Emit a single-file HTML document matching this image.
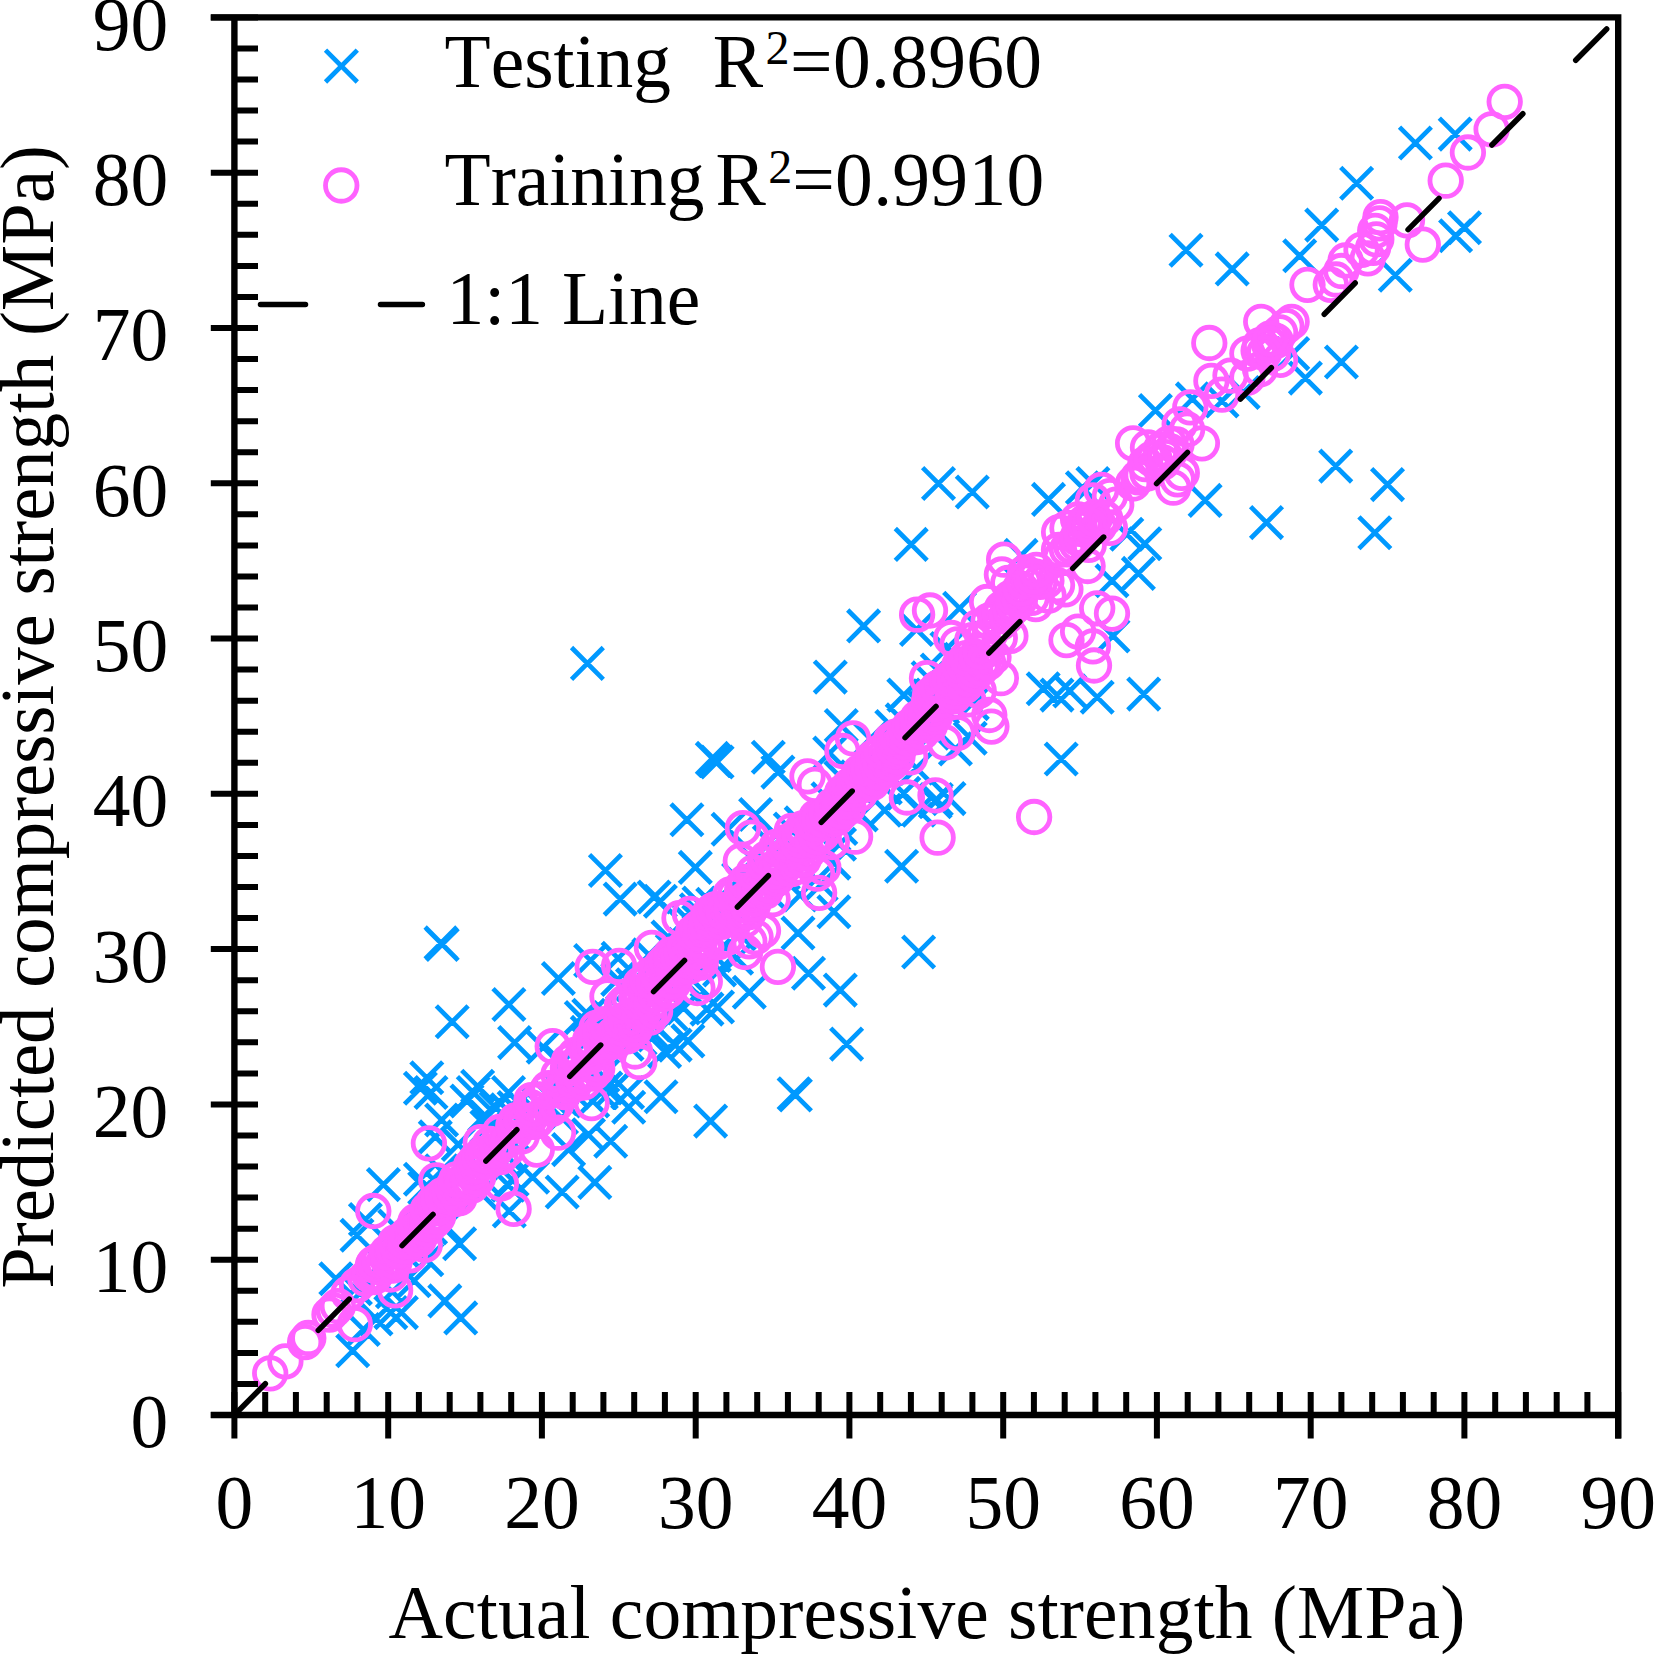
<!DOCTYPE html>
<html lang="en"><head><meta charset="utf-8"><title>Predicted vs actual compressive strength</title>
<style>html,body{margin:0;padding:0;background:#fff;}body{width:1654px;height:1654px;overflow:hidden;}svg{display:block;font-kerning:none;font-family:"Liberation Serif",serif;}</style></head><body>
<svg width="1654" height="1654" viewBox="0 0 1654 1654">
<rect width="1654" height="1654" fill="#fff"/>
<path d="M336.8 1334.8l31.8 31.8m0 -31.8l-31.8 31.8M347.4 1313.6l31.8 31.8m0 -31.8l-31.8 31.8M360.1 1303.0l31.8 31.8m0 -31.8l-31.8 31.8M374.9 1296.7l31.8 31.8m0 -31.8l-31.8 31.8M385.5 1296.7l31.8 31.8m0 -31.8l-31.8 31.8M428.9 1285.0l31.8 31.8m0 -31.8l-31.8 31.8M444.8 1302.0l31.8 31.8m0 -31.8l-31.8 31.8M443.7 1227.9l31.8 31.8m0 -31.8l-31.8 31.8M410.9 1243.8l31.8 31.8m0 -31.8l-31.8 31.8M398.2 1264.9l31.8 31.8m0 -31.8l-31.8 31.8M319.9 1262.8l31.8 31.8m0 -31.8l-31.8 31.8M341.1 1219.4l31.8 31.8m0 -31.8l-31.8 31.8M349.5 1203.6l31.8 31.8m0 -31.8l-31.8 31.8M367.5 1168.7l31.8 31.8m0 -31.8l-31.8 31.8M404.5 1163.4l31.8 31.8m0 -31.8l-31.8 31.8M410.9 1061.8l31.8 31.8m0 -31.8l-31.8 31.8M404.5 1072.4l31.8 31.8m0 -31.8l-31.8 31.8M415.1 1076.6l31.8 31.8m0 -31.8l-31.8 31.8M457.4 1076.6l31.8 31.8m0 -31.8l-31.8 31.8M451.1 1085.1l31.8 31.8m0 -31.8l-31.8 31.8M461.7 1070.3l31.8 31.8m0 -31.8l-31.8 31.8M425.7 1104.1l31.8 31.8m0 -31.8l-31.8 31.8M419.4 1121.0l31.8 31.8m0 -31.8l-31.8 31.8M546.3 1176.1l31.8 31.8m0 -31.8l-31.8 31.8M516.7 1161.3l31.8 31.8m0 -31.8l-31.8 31.8M493.4 1195.1l31.8 31.8m0 -31.8l-31.8 31.8M552.7 1133.7l31.8 31.8m0 -31.8l-31.8 31.8M698.5 744.6l31.8 31.8m0 -31.8l-31.8 31.8M696.4 742.5l31.8 31.8m0 -31.8l-31.8 31.8M701.2 746.1l31.8 31.8m0 -31.8l-31.8 31.8M752.4 741.4l31.8 31.8m0 -31.8l-31.8 31.8M762.0 756.2l31.8 31.8m0 -31.8l-31.8 31.8M671.0 803.8l31.8 31.8m0 -31.8l-31.8 31.8M589.5 854.6l31.8 31.8m0 -31.8l-31.8 31.8M604.3 883.2l31.8 31.8m0 -31.8l-31.8 31.8M638.2 881.1l31.8 31.8m0 -31.8l-31.8 31.8M644.5 885.3l31.8 31.8m0 -31.8l-31.8 31.8M679.4 851.5l31.8 31.8m0 -31.8l-31.8 31.8M885.7 850.4l31.8 31.8m0 -31.8l-31.8 31.8M818.0 895.9l31.8 31.8m0 -31.8l-31.8 31.8M782.1 917.1l31.8 31.8m0 -31.8l-31.8 31.8M792.6 957.3l31.8 31.8m0 -31.8l-31.8 31.8M824.4 974.2l31.8 31.8m0 -31.8l-31.8 31.8M733.4 976.3l31.8 31.8m0 -31.8l-31.8 31.8M902.7 936.1l31.8 31.8m0 -31.8l-31.8 31.8M830.7 1028.2l31.8 31.8m0 -31.8l-31.8 31.8M672.0 1025.0l31.8 31.8m0 -31.8l-31.8 31.8M659.3 1029.2l31.8 31.8m0 -31.8l-31.8 31.8M648.7 1035.6l31.8 31.8m0 -31.8l-31.8 31.8M691.1 993.2l31.8 31.8m0 -31.8l-31.8 31.8M701.6 991.1l31.8 31.8m0 -31.8l-31.8 31.8M574.7 944.6l31.8 31.8m0 -31.8l-31.8 31.8M602.2 942.4l31.8 31.8m0 -31.8l-31.8 31.8M825.4 709.7l31.8 31.8m0 -31.8l-31.8 31.8M813.8 737.2l31.8 31.8m0 -31.8l-31.8 31.8M868.8 794.3l31.8 31.8m0 -31.8l-31.8 31.8M902.7 794.3l31.8 31.8m0 -31.8l-31.8 31.8M887.9 777.4l31.8 31.8m0 -31.8l-31.8 31.8M712.2 813.4l31.8 31.8m0 -31.8l-31.8 31.8M739.7 798.6l31.8 31.8m0 -31.8l-31.8 31.8M720.7 942.4l31.8 31.8m0 -31.8l-31.8 31.8M805.3 868.4l31.8 31.8m0 -31.8l-31.8 31.8M818.0 847.2l31.8 31.8m0 -31.8l-31.8 31.8M784.2 879.0l31.8 31.8m0 -31.8l-31.8 31.8M922.6 467.6l31.8 31.8m0 -31.8l-31.8 31.8M956.4 476.1l31.8 31.8m0 -31.8l-31.8 31.8M1032.6 483.5l31.8 31.8m0 -31.8l-31.8 31.8M1066.5 471.8l31.8 31.8m0 -31.8l-31.8 31.8M1077.0 467.6l31.8 31.8m0 -31.8l-31.8 31.8M1139.5 394.6l31.8 31.8m0 -31.8l-31.8 31.8M1176.5 383.0l31.8 31.8m0 -31.8l-31.8 31.8M1189.2 484.5l31.8 31.8m0 -31.8l-31.8 31.8M1250.6 506.7l31.8 31.8m0 -31.8l-31.8 31.8M1128.9 527.9l31.8 31.8m0 -31.8l-31.8 31.8M1110.9 518.4l31.8 31.8m0 -31.8l-31.8 31.8M1122.5 557.5l31.8 31.8m0 -31.8l-31.8 31.8M1096.1 564.9l31.8 31.8m0 -31.8l-31.8 31.8M943.7 592.4l31.8 31.8m0 -31.8l-31.8 31.8M1097.1 620.0l31.8 31.8m0 -31.8l-31.8 31.8M1027.3 672.9l31.8 31.8m0 -31.8l-31.8 31.8M1041.1 679.2l31.8 31.8m0 -31.8l-31.8 31.8M1053.8 675.0l31.8 31.8m0 -31.8l-31.8 31.8M1081.3 681.3l31.8 31.8m0 -31.8l-31.8 31.8M1127.8 678.2l31.8 31.8m0 -31.8l-31.8 31.8M1227.3 376.6l31.8 31.8m0 -31.8l-31.8 31.8M1206.1 385.1l31.8 31.8m0 -31.8l-31.8 31.8M931.0 632.7l31.8 31.8m0 -31.8l-31.8 31.8M1005.1 539.5l31.8 31.8m0 -31.8l-31.8 31.8M956.4 687.7l31.8 31.8m0 -31.8l-31.8 31.8M926.8 691.9l31.8 31.8m0 -31.8l-31.8 31.8M1399.5 127.1l31.8 31.8m0 -31.8l-31.8 31.8M1439.3 118.2l31.8 31.8m0 -31.8l-31.8 31.8M1340.7 167.3l31.8 31.8m0 -31.8l-31.8 31.8M1305.8 209.2l31.8 31.8m0 -31.8l-31.8 31.8M1283.8 239.9l31.8 31.8m0 -31.8l-31.8 31.8M1379.4 259.4l31.8 31.8m0 -31.8l-31.8 31.8M1439.7 219.8l31.8 31.8m0 -31.8l-31.8 31.8M1448.6 211.8l31.8 31.8m0 -31.8l-31.8 31.8M1325.5 346.1l31.8 31.8m0 -31.8l-31.8 31.8M1276.8 337.7l31.8 31.8m0 -31.8l-31.8 31.8M778.2 1077.9l31.8 31.8m0 -31.8l-31.8 31.8M779.5 1079.1l31.8 31.8m0 -31.8l-31.8 31.8M694.7 1105.2l31.8 31.8m0 -31.8l-31.8 31.8M645.1 1080.8l31.8 31.8m0 -31.8l-31.8 31.8M611.7 1076.6l31.8 31.8m0 -31.8l-31.8 31.8M612.8 1091.4l31.8 31.8m0 -31.8l-31.8 31.8M595.8 1074.5l31.8 31.8m0 -31.8l-31.8 31.8M576.8 1085.1l31.8 31.8m0 -31.8l-31.8 31.8M594.8 1125.3l31.8 31.8m0 -31.8l-31.8 31.8M578.9 1166.5l31.8 31.8m0 -31.8l-31.8 31.8M572.6 1118.9l31.8 31.8m0 -31.8l-31.8 31.8M425.1 927.0l31.8 31.8m0 -31.8l-31.8 31.8M426.3 928.5l31.8 31.8m0 -31.8l-31.8 31.8M436.3 1005.9l31.8 31.8m0 -31.8l-31.8 31.8M493.0 988.6l31.8 31.8m0 -31.8l-31.8 31.8M498.7 1026.7l31.8 31.8m0 -31.8l-31.8 31.8M542.5 962.6l31.8 31.8m0 -31.8l-31.8 31.8M565.4 1001.7l31.8 31.8m0 -31.8l-31.8 31.8M527.3 1031.3l31.8 31.8m0 -31.8l-31.8 31.8M571.5 647.5l31.8 31.8m0 -31.8l-31.8 31.8M847.7 610.0l31.8 31.8m0 -31.8l-31.8 31.8M814.4 661.2l31.8 31.8m0 -31.8l-31.8 31.8M895.3 528.5l31.8 31.8m0 -31.8l-31.8 31.8M900.6 613.6l31.8 31.8m0 -31.8l-31.8 31.8M887.9 679.2l31.8 31.8m0 -31.8l-31.8 31.8M1045.3 743.1l31.8 31.8m0 -31.8l-31.8 31.8M954.3 722.4l31.8 31.8m0 -31.8l-31.8 31.8M939.5 733.0l31.8 31.8m0 -31.8l-31.8 31.8M933.1 782.7l31.8 31.8m0 -31.8l-31.8 31.8M920.4 783.7l31.8 31.8m0 -31.8l-31.8 31.8M919.4 785.9l31.8 31.8m0 -31.8l-31.8 31.8M1319.8 450.2l31.8 31.8m0 -31.8l-31.8 31.8M1371.6 468.7l31.8 31.8m0 -31.8l-31.8 31.8M1358.9 516.9l31.8 31.8m0 -31.8l-31.8 31.8M1289.5 362.2l31.8 31.8m0 -31.8l-31.8 31.8M1170.1 234.4l31.8 31.8m0 -31.8l-31.8 31.8M1216.3 253.0l31.8 31.8m0 -31.8l-31.8 31.8M339.5 1272.8l31.8 31.8m0 -31.8l-31.8 31.8M352.5 1268.9l31.8 31.8m0 -31.8l-31.8 31.8M376.5 1275.9l31.8 31.8m0 -31.8l-31.8 31.8M365.4 1247.8l31.8 31.8m0 -31.8l-31.8 31.8M375.7 1241.0l31.8 31.8m0 -31.8l-31.8 31.8M387.5 1235.9l31.8 31.8m0 -31.8l-31.8 31.8M378.8 1210.2l31.8 31.8m0 -31.8l-31.8 31.8M401.2 1215.6l31.8 31.8m0 -31.8l-31.8 31.8M414.7 1212.1l31.8 31.8m0 -31.8l-31.8 31.8M430.1 1210.5l31.8 31.8m0 -31.8l-31.8 31.8M408.8 1172.2l31.8 31.8m0 -31.8l-31.8 31.8M426.2 1172.5l31.8 31.8m0 -31.8l-31.8 31.8M425.5 1154.9l31.8 31.8m0 -31.8l-31.8 31.8M464.6 1177.0l31.8 31.8m0 -31.8l-31.8 31.8M468.1 1163.5l31.8 31.8m0 -31.8l-31.8 31.8M442.4 1128.5l31.8 31.8m0 -31.8l-31.8 31.8M492.4 1169.3l31.8 31.8m0 -31.8l-31.8 31.8M496.2 1163.8l31.8 31.8m0 -31.8l-31.8 31.8M485.8 1144.1l31.8 31.8m0 -31.8l-31.8 31.8M488.5 1137.6l31.8 31.8m0 -31.8l-31.8 31.8M471.0 1110.8l31.8 31.8m0 -31.8l-31.8 31.8M468.8 1099.3l31.8 31.8m0 -31.8l-31.8 31.8M498.2 1119.4l31.8 31.8m0 -31.8l-31.8 31.8M480.1 1092.1l31.8 31.8m0 -31.8l-31.8 31.8M491.1 1093.8l31.8 31.8m0 -31.8l-31.8 31.8M498.2 1091.6l31.8 31.8m0 -31.8l-31.8 31.8M492.6 1076.7l31.8 31.8m0 -31.8l-31.8 31.8M518.1 1093.0l31.8 31.8m0 -31.8l-31.8 31.8M521.6 1087.2l31.8 31.8m0 -31.8l-31.8 31.8M545.6 1101.9l31.8 31.8m0 -31.8l-31.8 31.8M534.6 1081.7l31.8 31.8m0 -31.8l-31.8 31.8M545.1 1082.9l31.8 31.8m0 -31.8l-31.8 31.8M542.9 1071.4l31.8 31.8m0 -31.8l-31.8 31.8M555.4 1074.6l31.8 31.8m0 -31.8l-31.8 31.8M550.1 1060.1l31.8 31.8m0 -31.8l-31.8 31.8M546.1 1046.8l31.8 31.8m0 -31.8l-31.8 31.8M585.4 1076.8l31.8 31.8m0 -31.8l-31.8 31.8M589.9 1072.1l31.8 31.8m0 -31.8l-31.8 31.8M587.0 1059.9l31.8 31.8m0 -31.8l-31.8 31.8M585.2 1048.9l31.8 31.8m0 -31.8l-31.8 31.8M570.9 1025.3l31.8 31.8m0 -31.8l-31.8 31.8M571.4 1016.5l31.8 31.8m0 -31.8l-31.8 31.8M578.9 1014.7l31.8 31.8m0 -31.8l-31.8 31.8M572.9 999.4l31.8 31.8m0 -31.8l-31.8 31.8M611.1 1028.4l31.8 31.8m0 -31.8l-31.8 31.8M598.1 1006.1l31.8 31.8m0 -31.8l-31.8 31.8M624.2 1023.0l31.8 31.8m0 -31.8l-31.8 31.8M606.6 996.1l31.8 31.8m0 -31.8l-31.8 31.8M638.8 1019.0l31.8 31.8m0 -31.8l-31.8 31.8M638.1 1009.0l31.8 31.8m0 -31.8l-31.8 31.8M601.8 963.5l31.8 31.8m0 -31.8l-31.8 31.8M616.6 968.9l31.8 31.8m0 -31.8l-31.8 31.8M655.0 998.1l31.8 31.8m0 -31.8l-31.8 31.8M638.3 972.2l31.8 31.8m0 -31.8l-31.8 31.8M667.6 992.1l31.8 31.8m0 -31.8l-31.8 31.8M644.1 959.3l31.8 31.8m0 -31.8l-31.8 31.8M633.0 939.0l31.8 31.8m0 -31.8l-31.8 31.8M664.5 961.2l31.8 31.8m0 -31.8l-31.8 31.8M676.3 963.8l31.8 31.8m0 -31.8l-31.8 31.8M656.4 934.5l31.8 31.8m0 -31.8l-31.8 31.8M652.1 921.1l31.8 31.8m0 -31.8l-31.8 31.8M668.6 928.3l31.8 31.8m0 -31.8l-31.8 31.8M703.7 954.1l31.8 31.8m0 -31.8l-31.8 31.8M698.4 939.5l31.8 31.8m0 -31.8l-31.8 31.8M672.1 903.9l31.8 31.8m0 -31.8l-31.8 31.8M682.9 905.5l31.8 31.8m0 -31.8l-31.8 31.8M680.5 893.8l31.8 31.8m0 -31.8l-31.8 31.8M683.1 887.1l31.8 31.8m0 -31.8l-31.8 31.8M723.3 918.1l31.8 31.8m0 -31.8l-31.8 31.8M696.8 888.4l31.8 31.8m0 -31.8l-31.8 31.8M721.5 896.2l31.8 31.8m0 -31.8l-31.8 31.8M725.2 882.9l31.8 31.8m0 -31.8l-31.8 31.8M722.7 863.4l31.8 31.8m0 -31.8l-31.8 31.8M754.2 877.9l31.8 31.8m0 -31.8l-31.8 31.8M737.1 843.7l31.8 31.8m0 -31.8l-31.8 31.8M767.4 857.1l31.8 31.8m0 -31.8l-31.8 31.8M753.4 826.1l31.8 31.8m0 -31.8l-31.8 31.8M774.8 830.5l31.8 31.8m0 -31.8l-31.8 31.8M774.4 813.1l31.8 31.8m0 -31.8l-31.8 31.8M785.3 807.0l31.8 31.8m0 -31.8l-31.8 31.8M823.6 828.3l31.8 31.8m0 -31.8l-31.8 31.8M824.9 812.6l31.8 31.8m0 -31.8l-31.8 31.8M812.1 782.8l31.8 31.8m0 -31.8l-31.8 31.8M845.3 799.0l31.8 31.8m0 -31.8l-31.8 31.8M825.0 761.7l31.8 31.8m0 -31.8l-31.8 31.8M841.3 761.0l31.8 31.8m0 -31.8l-31.8 31.8M869.4 772.1l31.8 31.8m0 -31.8l-31.8 31.8M868.8 754.5l31.8 31.8m0 -31.8l-31.8 31.8M854.2 722.9l31.8 31.8m0 -31.8l-31.8 31.8M900.5 752.2l31.8 31.8m0 -31.8l-31.8 31.8M875.9 710.6l31.8 31.8m0 -31.8l-31.8 31.8M886.3 704.0l31.8 31.8m0 -31.8l-31.8 31.8M916.6 717.4l31.8 31.8m0 -31.8l-31.8 31.8M906.2 689.9l31.8 31.8m0 -31.8l-31.8 31.8M913.3 680.0l31.8 31.8m0 -31.8l-31.8 31.8M912.2 661.9l31.8 31.8m0 -31.8l-31.8 31.8M921.4 654.1l31.8 31.8m0 -31.8l-31.8 31.8M950.8 666.6l31.8 31.8m0 -31.8l-31.8 31.8M944.8 643.5l31.8 31.8m0 -31.8l-31.8 31.8" fill="none" stroke="#0099ff" stroke-width="4.7"/>
<g fill="none" stroke="#ff62ff" stroke-width="4.8">
<circle cx="270.2" cy="1373.3" r="15.75"/>
<circle cx="285.4" cy="1361.3" r="15.75"/>
<circle cx="305.1" cy="1342.2" r="15.75"/>
<circle cx="308.3" cy="1338.0" r="15.75"/>
<circle cx="329.5" cy="1314.7" r="15.75"/>
<circle cx="333.7" cy="1310.5" r="15.75"/>
<circle cx="337.9" cy="1306.2" r="15.75"/>
<circle cx="354.8" cy="1324.2" r="15.75"/>
<circle cx="348.5" cy="1293.5" r="15.75"/>
<circle cx="357.0" cy="1285.1" r="15.75"/>
<circle cx="365.4" cy="1278.7" r="15.75"/>
<circle cx="373.9" cy="1273.4" r="15.75"/>
<circle cx="382.4" cy="1268.1" r="15.75"/>
<circle cx="395.1" cy="1290.4" r="15.75"/>
<circle cx="390.8" cy="1274.5" r="15.75"/>
<circle cx="409.9" cy="1255.4" r="15.75"/>
<circle cx="424.7" cy="1244.9" r="15.75"/>
<circle cx="373.3" cy="1211.0" r="15.75"/>
<circle cx="428.9" cy="1143.3" r="15.75"/>
<circle cx="436.3" cy="1180.3" r="15.75"/>
<circle cx="480.8" cy="1142.2" r="15.75"/>
<circle cx="513.6" cy="1208.9" r="15.75"/>
<circle cx="500.9" cy="1183.5" r="15.75"/>
<circle cx="536.8" cy="1149.6" r="15.75"/>
<circle cx="558.0" cy="1132.7" r="15.75"/>
<circle cx="592.7" cy="966.8" r="15.75"/>
<circle cx="619.1" cy="965.8" r="15.75"/>
<circle cx="607.5" cy="996.4" r="15.75"/>
<circle cx="651.9" cy="947.8" r="15.75"/>
<circle cx="679.5" cy="918.1" r="15.75"/>
<circle cx="690.0" cy="913.9" r="15.75"/>
<circle cx="740.8" cy="861.0" r="15.75"/>
<circle cx="742.9" cy="828.2" r="15.75"/>
<circle cx="751.4" cy="837.7" r="15.75"/>
<circle cx="807.5" cy="776.4" r="15.75"/>
<circle cx="814.9" cy="784.8" r="15.75"/>
<circle cx="853.0" cy="738.3" r="15.75"/>
<circle cx="842.4" cy="751.0" r="15.75"/>
<circle cx="635.0" cy="1051.5" r="15.75"/>
<circle cx="639.3" cy="1062.0" r="15.75"/>
<circle cx="649.8" cy="1017.6" r="15.75"/>
<circle cx="697.4" cy="988.0" r="15.75"/>
<circle cx="704.8" cy="981.6" r="15.75"/>
<circle cx="673.1" cy="983.7" r="15.75"/>
<circle cx="745.1" cy="952.0" r="15.75"/>
<circle cx="749.3" cy="941.4" r="15.75"/>
<circle cx="755.6" cy="937.2" r="15.75"/>
<circle cx="763.0" cy="930.8" r="15.75"/>
<circle cx="777.9" cy="966.8" r="15.75"/>
<circle cx="772.6" cy="899.1" r="15.75"/>
<circle cx="819.1" cy="892.8" r="15.75"/>
<circle cx="817.0" cy="873.7" r="15.75"/>
<circle cx="823.3" cy="867.4" r="15.75"/>
<circle cx="855.1" cy="836.7" r="15.75"/>
<circle cx="831.8" cy="842.0" r="15.75"/>
<circle cx="906.9" cy="797.5" r="15.75"/>
<circle cx="910.1" cy="757.3" r="15.75"/>
<circle cx="937.6" cy="837.7" r="15.75"/>
<circle cx="935.5" cy="795.4" r="15.75"/>
<circle cx="1211.4" cy="380.9" r="15.75"/>
<circle cx="1230.5" cy="375.6" r="15.75"/>
<circle cx="1222.0" cy="394.6" r="15.75"/>
<circle cx="1247.4" cy="377.7" r="15.75"/>
<circle cx="1260.1" cy="369.2" r="15.75"/>
<circle cx="1190.3" cy="407.3" r="15.75"/>
<circle cx="1179.7" cy="424.3" r="15.75"/>
<circle cx="1187.1" cy="429.5" r="15.75"/>
<circle cx="1201.9" cy="443.3" r="15.75"/>
<circle cx="1133.1" cy="443.3" r="15.75"/>
<circle cx="1148.0" cy="447.5" r="15.75"/>
<circle cx="1160.7" cy="449.6" r="15.75"/>
<circle cx="1169.1" cy="443.3" r="15.75"/>
<circle cx="1154.3" cy="458.1" r="15.75"/>
<circle cx="1162.8" cy="462.3" r="15.75"/>
<circle cx="1141.6" cy="475.0" r="15.75"/>
<circle cx="1177.6" cy="479.3" r="15.75"/>
<circle cx="1173.3" cy="487.7" r="15.75"/>
<circle cx="1181.8" cy="472.9" r="15.75"/>
<circle cx="1133.1" cy="483.5" r="15.75"/>
<circle cx="1101.4" cy="489.8" r="15.75"/>
<circle cx="1109.9" cy="496.2" r="15.75"/>
<circle cx="1116.2" cy="504.7" r="15.75"/>
<circle cx="1092.9" cy="500.4" r="15.75"/>
<circle cx="1078.1" cy="519.5" r="15.75"/>
<circle cx="1067.5" cy="527.9" r="15.75"/>
<circle cx="1059.1" cy="532.2" r="15.75"/>
<circle cx="1086.6" cy="523.7" r="15.75"/>
<circle cx="1099.3" cy="525.8" r="15.75"/>
<circle cx="1109.9" cy="527.9" r="15.75"/>
<circle cx="1078.1" cy="538.5" r="15.75"/>
<circle cx="1088.7" cy="544.9" r="15.75"/>
<circle cx="1087.6" cy="566.0" r="15.75"/>
<circle cx="1004.1" cy="559.7" r="15.75"/>
<circle cx="1001.9" cy="574.5" r="15.75"/>
<circle cx="1008.3" cy="583.0" r="15.75"/>
<circle cx="1025.2" cy="572.4" r="15.75"/>
<circle cx="1035.8" cy="576.6" r="15.75"/>
<circle cx="1046.4" cy="580.8" r="15.75"/>
<circle cx="1057.0" cy="585.1" r="15.75"/>
<circle cx="1065.4" cy="589.3" r="15.75"/>
<circle cx="1048.5" cy="595.7" r="15.75"/>
<circle cx="1031.6" cy="597.8" r="15.75"/>
<circle cx="1018.9" cy="593.5" r="15.75"/>
<circle cx="1010.4" cy="597.8" r="15.75"/>
<circle cx="987.1" cy="602.0" r="15.75"/>
<circle cx="1001.9" cy="608.3" r="15.75"/>
<circle cx="1035.8" cy="604.1" r="15.75"/>
<circle cx="1097.2" cy="608.3" r="15.75"/>
<circle cx="1112.0" cy="613.6" r="15.75"/>
<circle cx="1066.5" cy="640.1" r="15.75"/>
<circle cx="1078.1" cy="631.6" r="15.75"/>
<circle cx="1092.9" cy="646.4" r="15.75"/>
<circle cx="1094.0" cy="665.5" r="15.75"/>
<circle cx="951.2" cy="638.0" r="15.75"/>
<circle cx="957.5" cy="644.3" r="15.75"/>
<circle cx="972.3" cy="640.1" r="15.75"/>
<circle cx="982.9" cy="638.0" r="15.75"/>
<circle cx="999.8" cy="638.0" r="15.75"/>
<circle cx="1010.4" cy="635.9" r="15.75"/>
<circle cx="993.5" cy="657.0" r="15.75"/>
<circle cx="982.9" cy="665.5" r="15.75"/>
<circle cx="1000.9" cy="678.2" r="15.75"/>
<circle cx="972.3" cy="671.8" r="15.75"/>
<circle cx="961.7" cy="682.4" r="15.75"/>
<circle cx="951.2" cy="678.2" r="15.75"/>
<circle cx="940.6" cy="686.6" r="15.75"/>
<circle cx="930.0" cy="695.1" r="15.75"/>
<circle cx="978.7" cy="690.9" r="15.75"/>
<circle cx="968.1" cy="699.3" r="15.75"/>
<circle cx="989.3" cy="715.0" r="15.75"/>
<circle cx="930.0" cy="610.5" r="15.75"/>
<circle cx="1504.7" cy="101.8" r="15.75"/>
<circle cx="1491.6" cy="129.3" r="15.75"/>
<circle cx="1467.9" cy="152.5" r="15.75"/>
<circle cx="1445.7" cy="180.7" r="15.75"/>
<circle cx="1407.0" cy="220.3" r="15.75"/>
<circle cx="1380.5" cy="217.1" r="15.75"/>
<circle cx="1379.5" cy="223.4" r="15.75"/>
<circle cx="1375.2" cy="230.8" r="15.75"/>
<circle cx="1376.3" cy="239.3" r="15.75"/>
<circle cx="1422.8" cy="244.6" r="15.75"/>
<circle cx="1373.1" cy="247.8" r="15.75"/>
<circle cx="1361.5" cy="249.9" r="15.75"/>
<circle cx="1367.8" cy="258.3" r="15.75"/>
<circle cx="1345.6" cy="260.5" r="15.75"/>
<circle cx="1341.4" cy="271.0" r="15.75"/>
<circle cx="1336.1" cy="279.5" r="15.75"/>
<circle cx="1330.8" cy="284.8" r="15.75"/>
<circle cx="1307.5" cy="284.8" r="15.75"/>
<circle cx="1291.6" cy="321.8" r="15.75"/>
<circle cx="1286.3" cy="326.1" r="15.75"/>
<circle cx="1280.0" cy="332.4" r="15.75"/>
<circle cx="1275.8" cy="340.9" r="15.75"/>
<circle cx="1280.0" cy="359.9" r="15.75"/>
<circle cx="591.6" cy="1103.1" r="15.75"/>
<circle cx="594.8" cy="1067.1" r="15.75"/>
<circle cx="552.7" cy="1046.2" r="15.75"/>
<circle cx="917.1" cy="614.7" r="15.75"/>
<circle cx="927.0" cy="678.2" r="15.75"/>
<circle cx="1034.1" cy="817.0" r="15.75"/>
<circle cx="991.4" cy="726.6" r="15.75"/>
<circle cx="957.5" cy="733.0" r="15.75"/>
<circle cx="944.8" cy="742.5" r="15.75"/>
<circle cx="930.0" cy="725.6" r="15.75"/>
<circle cx="1209.3" cy="343.0" r="15.75"/>
<circle cx="1261.2" cy="321.8" r="15.75"/>
<circle cx="1247.4" cy="353.6" r="15.75"/>
<circle cx="1260.1" cy="345.1" r="15.75"/>
<circle cx="1272.8" cy="353.6" r="15.75"/>
<circle cx="369.3" cy="1274.7" r="15.75"/>
<circle cx="374.4" cy="1277.0" r="15.75"/>
<circle cx="376.0" cy="1272.8" r="15.75"/>
<circle cx="372.9" cy="1265.1" r="15.75"/>
<circle cx="374.0" cy="1263.4" r="15.75"/>
<circle cx="374.6" cy="1263.5" r="15.75"/>
<circle cx="383.4" cy="1262.8" r="15.75"/>
<circle cx="379.2" cy="1260.2" r="15.75"/>
<circle cx="389.6" cy="1261.1" r="15.75"/>
<circle cx="388.4" cy="1261.2" r="15.75"/>
<circle cx="393.2" cy="1265.5" r="15.75"/>
<circle cx="394.6" cy="1261.4" r="15.75"/>
<circle cx="387.4" cy="1252.3" r="15.75"/>
<circle cx="393.9" cy="1249.5" r="15.75"/>
<circle cx="393.2" cy="1247.4" r="15.75"/>
<circle cx="399.2" cy="1251.7" r="15.75"/>
<circle cx="398.5" cy="1250.3" r="15.75"/>
<circle cx="395.3" cy="1242.4" r="15.75"/>
<circle cx="405.0" cy="1246.8" r="15.75"/>
<circle cx="403.2" cy="1240.3" r="15.75"/>
<circle cx="405.2" cy="1241.4" r="15.75"/>
<circle cx="412.5" cy="1241.9" r="15.75"/>
<circle cx="407.4" cy="1234.4" r="15.75"/>
<circle cx="413.5" cy="1234.7" r="15.75"/>
<circle cx="415.1" cy="1237.7" r="15.75"/>
<circle cx="418.9" cy="1239.6" r="15.75"/>
<circle cx="416.9" cy="1228.8" r="15.75"/>
<circle cx="414.4" cy="1225.2" r="15.75"/>
<circle cx="415.6" cy="1221.5" r="15.75"/>
<circle cx="425.1" cy="1228.4" r="15.75"/>
<circle cx="427.0" cy="1229.0" r="15.75"/>
<circle cx="427.8" cy="1224.1" r="15.75"/>
<circle cx="427.6" cy="1221.7" r="15.75"/>
<circle cx="434.3" cy="1220.9" r="15.75"/>
<circle cx="430.7" cy="1216.2" r="15.75"/>
<circle cx="427.8" cy="1209.6" r="15.75"/>
<circle cx="437.4" cy="1213.3" r="15.75"/>
<circle cx="438.1" cy="1216.6" r="15.75"/>
<circle cx="436.5" cy="1208.3" r="15.75"/>
<circle cx="433.2" cy="1203.4" r="15.75"/>
<circle cx="435.1" cy="1204.7" r="15.75"/>
<circle cx="438.2" cy="1199.1" r="15.75"/>
<circle cx="438.5" cy="1200.3" r="15.75"/>
<circle cx="445.8" cy="1199.0" r="15.75"/>
<circle cx="442.2" cy="1195.5" r="15.75"/>
<circle cx="451.1" cy="1197.3" r="15.75"/>
<circle cx="455.7" cy="1198.8" r="15.75"/>
<circle cx="449.4" cy="1192.8" r="15.75"/>
<circle cx="454.0" cy="1190.0" r="15.75"/>
<circle cx="459.4" cy="1198.2" r="15.75"/>
<circle cx="452.5" cy="1187.3" r="15.75"/>
<circle cx="455.9" cy="1185.2" r="15.75"/>
<circle cx="460.7" cy="1188.4" r="15.75"/>
<circle cx="456.4" cy="1179.4" r="15.75"/>
<circle cx="462.9" cy="1181.2" r="15.75"/>
<circle cx="471.8" cy="1185.6" r="15.75"/>
<circle cx="468.2" cy="1179.3" r="15.75"/>
<circle cx="469.3" cy="1181.7" r="15.75"/>
<circle cx="476.6" cy="1179.5" r="15.75"/>
<circle cx="478.1" cy="1177.5" r="15.75"/>
<circle cx="472.6" cy="1172.0" r="15.75"/>
<circle cx="472.0" cy="1166.0" r="15.75"/>
<circle cx="470.9" cy="1166.2" r="15.75"/>
<circle cx="474.6" cy="1165.7" r="15.75"/>
<circle cx="477.3" cy="1166.0" r="15.75"/>
<circle cx="475.6" cy="1160.0" r="15.75"/>
<circle cx="479.3" cy="1158.5" r="15.75"/>
<circle cx="482.3" cy="1153.8" r="15.75"/>
<circle cx="487.6" cy="1161.9" r="15.75"/>
<circle cx="483.6" cy="1155.5" r="15.75"/>
<circle cx="486.9" cy="1155.8" r="15.75"/>
<circle cx="500.5" cy="1157.2" r="15.75"/>
<circle cx="494.9" cy="1150.9" r="15.75"/>
<circle cx="489.8" cy="1144.0" r="15.75"/>
<circle cx="497.0" cy="1144.9" r="15.75"/>
<circle cx="506.6" cy="1150.4" r="15.75"/>
<circle cx="499.8" cy="1132.0" r="15.75"/>
<circle cx="506.7" cy="1140.8" r="15.75"/>
<circle cx="508.9" cy="1139.1" r="15.75"/>
<circle cx="515.1" cy="1132.4" r="15.75"/>
<circle cx="521.7" cy="1136.3" r="15.75"/>
<circle cx="513.3" cy="1125.8" r="15.75"/>
<circle cx="516.0" cy="1120.1" r="15.75"/>
<circle cx="524.2" cy="1123.3" r="15.75"/>
<circle cx="521.2" cy="1120.0" r="15.75"/>
<circle cx="534.4" cy="1121.8" r="15.75"/>
<circle cx="536.7" cy="1120.8" r="15.75"/>
<circle cx="538.4" cy="1118.0" r="15.75"/>
<circle cx="530.6" cy="1107.2" r="15.75"/>
<circle cx="533.1" cy="1108.8" r="15.75"/>
<circle cx="531.5" cy="1100.1" r="15.75"/>
<circle cx="539.3" cy="1099.5" r="15.75"/>
<circle cx="551.6" cy="1109.0" r="15.75"/>
<circle cx="556.0" cy="1103.9" r="15.75"/>
<circle cx="556.1" cy="1104.3" r="15.75"/>
<circle cx="546.5" cy="1091.0" r="15.75"/>
<circle cx="548.5" cy="1088.2" r="15.75"/>
<circle cx="560.6" cy="1089.5" r="15.75"/>
<circle cx="564.7" cy="1092.1" r="15.75"/>
<circle cx="565.5" cy="1085.4" r="15.75"/>
<circle cx="558.5" cy="1074.6" r="15.75"/>
<circle cx="574.4" cy="1084.5" r="15.75"/>
<circle cx="573.1" cy="1080.8" r="15.75"/>
<circle cx="567.9" cy="1068.1" r="15.75"/>
<circle cx="570.4" cy="1068.5" r="15.75"/>
<circle cx="583.7" cy="1082.5" r="15.75"/>
<circle cx="575.2" cy="1066.6" r="15.75"/>
<circle cx="580.2" cy="1075.3" r="15.75"/>
<circle cx="568.8" cy="1061.3" r="15.75"/>
<circle cx="589.5" cy="1073.7" r="15.75"/>
<circle cx="574.8" cy="1056.1" r="15.75"/>
<circle cx="593.2" cy="1073.2" r="15.75"/>
<circle cx="580.8" cy="1058.8" r="15.75"/>
<circle cx="575.2" cy="1055.0" r="15.75"/>
<circle cx="597.2" cy="1068.8" r="15.75"/>
<circle cx="590.3" cy="1056.7" r="15.75"/>
<circle cx="589.4" cy="1053.6" r="15.75"/>
<circle cx="596.4" cy="1063.4" r="15.75"/>
<circle cx="585.9" cy="1049.4" r="15.75"/>
<circle cx="588.3" cy="1046.5" r="15.75"/>
<circle cx="589.3" cy="1046.2" r="15.75"/>
<circle cx="590.1" cy="1040.0" r="15.75"/>
<circle cx="594.3" cy="1045.3" r="15.75"/>
<circle cx="602.4" cy="1046.9" r="15.75"/>
<circle cx="600.4" cy="1042.0" r="15.75"/>
<circle cx="601.9" cy="1043.9" r="15.75"/>
<circle cx="601.6" cy="1045.1" r="15.75"/>
<circle cx="601.9" cy="1041.3" r="15.75"/>
<circle cx="596.6" cy="1028.0" r="15.75"/>
<circle cx="600.2" cy="1031.6" r="15.75"/>
<circle cx="613.7" cy="1041.6" r="15.75"/>
<circle cx="606.4" cy="1031.8" r="15.75"/>
<circle cx="613.8" cy="1034.2" r="15.75"/>
<circle cx="604.7" cy="1024.2" r="15.75"/>
<circle cx="607.9" cy="1027.0" r="15.75"/>
<circle cx="621.4" cy="1035.8" r="15.75"/>
<circle cx="619.4" cy="1028.9" r="15.75"/>
<circle cx="626.9" cy="1036.3" r="15.75"/>
<circle cx="622.1" cy="1028.2" r="15.75"/>
<circle cx="622.2" cy="1023.9" r="15.75"/>
<circle cx="621.6" cy="1021.9" r="15.75"/>
<circle cx="625.3" cy="1019.3" r="15.75"/>
<circle cx="631.1" cy="1022.9" r="15.75"/>
<circle cx="635.0" cy="1029.3" r="15.75"/>
<circle cx="631.1" cy="1016.9" r="15.75"/>
<circle cx="635.1" cy="1024.8" r="15.75"/>
<circle cx="622.5" cy="1006.8" r="15.75"/>
<circle cx="622.0" cy="1005.3" r="15.75"/>
<circle cx="625.2" cy="1002.1" r="15.75"/>
<circle cx="642.6" cy="1014.9" r="15.75"/>
<circle cx="629.9" cy="1000.8" r="15.75"/>
<circle cx="639.6" cy="1012.6" r="15.75"/>
<circle cx="649.2" cy="1012.5" r="15.75"/>
<circle cx="636.4" cy="997.0" r="15.75"/>
<circle cx="639.6" cy="1001.4" r="15.75"/>
<circle cx="655.1" cy="1011.1" r="15.75"/>
<circle cx="637.1" cy="993.8" r="15.75"/>
<circle cx="645.7" cy="1000.3" r="15.75"/>
<circle cx="640.1" cy="992.2" r="15.75"/>
<circle cx="651.5" cy="1003.2" r="15.75"/>
<circle cx="651.1" cy="996.5" r="15.75"/>
<circle cx="640.6" cy="984.1" r="15.75"/>
<circle cx="655.6" cy="994.9" r="15.75"/>
<circle cx="647.1" cy="979.6" r="15.75"/>
<circle cx="663.8" cy="993.7" r="15.75"/>
<circle cx="647.7" cy="980.7" r="15.75"/>
<circle cx="649.8" cy="975.7" r="15.75"/>
<circle cx="653.4" cy="982.0" r="15.75"/>
<circle cx="661.3" cy="980.5" r="15.75"/>
<circle cx="668.4" cy="990.3" r="15.75"/>
<circle cx="658.3" cy="971.9" r="15.75"/>
<circle cx="667.7" cy="980.4" r="15.75"/>
<circle cx="656.2" cy="971.4" r="15.75"/>
<circle cx="671.8" cy="981.3" r="15.75"/>
<circle cx="662.3" cy="964.6" r="15.75"/>
<circle cx="675.0" cy="975.7" r="15.75"/>
<circle cx="664.9" cy="962.4" r="15.75"/>
<circle cx="666.0" cy="960.6" r="15.75"/>
<circle cx="673.4" cy="969.6" r="15.75"/>
<circle cx="679.4" cy="967.9" r="15.75"/>
<circle cx="671.3" cy="963.8" r="15.75"/>
<circle cx="678.7" cy="967.4" r="15.75"/>
<circle cx="670.9" cy="957.5" r="15.75"/>
<circle cx="671.2" cy="954.6" r="15.75"/>
<circle cx="678.5" cy="958.4" r="15.75"/>
<circle cx="689.4" cy="966.6" r="15.75"/>
<circle cx="684.8" cy="960.1" r="15.75"/>
<circle cx="682.2" cy="956.1" r="15.75"/>
<circle cx="681.6" cy="952.7" r="15.75"/>
<circle cx="695.5" cy="959.3" r="15.75"/>
<circle cx="684.9" cy="946.7" r="15.75"/>
<circle cx="700.7" cy="962.7" r="15.75"/>
<circle cx="700.9" cy="957.5" r="15.75"/>
<circle cx="697.1" cy="947.5" r="15.75"/>
<circle cx="695.0" cy="945.3" r="15.75"/>
<circle cx="704.6" cy="948.2" r="15.75"/>
<circle cx="698.0" cy="940.0" r="15.75"/>
<circle cx="706.3" cy="947.2" r="15.75"/>
<circle cx="700.1" cy="940.6" r="15.75"/>
<circle cx="693.1" cy="932.7" r="15.75"/>
<circle cx="697.4" cy="929.0" r="15.75"/>
<circle cx="700.3" cy="934.0" r="15.75"/>
<circle cx="700.9" cy="926.1" r="15.75"/>
<circle cx="718.3" cy="942.2" r="15.75"/>
<circle cx="705.3" cy="930.0" r="15.75"/>
<circle cx="707.8" cy="928.0" r="15.75"/>
<circle cx="706.3" cy="923.7" r="15.75"/>
<circle cx="712.1" cy="922.4" r="15.75"/>
<circle cx="726.8" cy="937.9" r="15.75"/>
<circle cx="714.5" cy="919.2" r="15.75"/>
<circle cx="714.7" cy="921.8" r="15.75"/>
<circle cx="709.6" cy="913.7" r="15.75"/>
<circle cx="721.6" cy="921.9" r="15.75"/>
<circle cx="717.1" cy="914.6" r="15.75"/>
<circle cx="713.3" cy="910.1" r="15.75"/>
<circle cx="717.1" cy="909.9" r="15.75"/>
<circle cx="715.9" cy="909.1" r="15.75"/>
<circle cx="723.7" cy="912.4" r="15.75"/>
<circle cx="732.4" cy="915.7" r="15.75"/>
<circle cx="737.8" cy="917.3" r="15.75"/>
<circle cx="739.4" cy="914.3" r="15.75"/>
<circle cx="731.5" cy="908.2" r="15.75"/>
<circle cx="744.8" cy="920.2" r="15.75"/>
<circle cx="742.7" cy="911.2" r="15.75"/>
<circle cx="730.4" cy="894.5" r="15.75"/>
<circle cx="749.0" cy="912.1" r="15.75"/>
<circle cx="747.8" cy="906.5" r="15.75"/>
<circle cx="735.3" cy="893.7" r="15.75"/>
<circle cx="745.8" cy="898.7" r="15.75"/>
<circle cx="753.5" cy="903.8" r="15.75"/>
<circle cx="750.5" cy="897.4" r="15.75"/>
<circle cx="753.1" cy="899.0" r="15.75"/>
<circle cx="742.1" cy="890.7" r="15.75"/>
<circle cx="742.8" cy="885.8" r="15.75"/>
<circle cx="745.6" cy="881.9" r="15.75"/>
<circle cx="755.7" cy="891.0" r="15.75"/>
<circle cx="758.8" cy="890.8" r="15.75"/>
<circle cx="754.4" cy="889.3" r="15.75"/>
<circle cx="765.5" cy="891.4" r="15.75"/>
<circle cx="759.7" cy="884.6" r="15.75"/>
<circle cx="762.4" cy="888.5" r="15.75"/>
<circle cx="766.2" cy="888.0" r="15.75"/>
<circle cx="753.6" cy="872.4" r="15.75"/>
<circle cx="768.7" cy="885.2" r="15.75"/>
<circle cx="773.5" cy="880.8" r="15.75"/>
<circle cx="767.2" cy="876.7" r="15.75"/>
<circle cx="769.5" cy="873.7" r="15.75"/>
<circle cx="776.7" cy="878.7" r="15.75"/>
<circle cx="773.2" cy="876.9" r="15.75"/>
<circle cx="764.8" cy="864.2" r="15.75"/>
<circle cx="779.1" cy="875.3" r="15.75"/>
<circle cx="775.5" cy="871.4" r="15.75"/>
<circle cx="767.1" cy="858.1" r="15.75"/>
<circle cx="783.3" cy="868.0" r="15.75"/>
<circle cx="783.1" cy="868.3" r="15.75"/>
<circle cx="781.8" cy="862.8" r="15.75"/>
<circle cx="780.7" cy="861.8" r="15.75"/>
<circle cx="791.5" cy="869.2" r="15.75"/>
<circle cx="797.8" cy="866.5" r="15.75"/>
<circle cx="776.7" cy="846.6" r="15.75"/>
<circle cx="797.3" cy="860.2" r="15.75"/>
<circle cx="787.9" cy="853.8" r="15.75"/>
<circle cx="787.0" cy="844.5" r="15.75"/>
<circle cx="786.9" cy="844.6" r="15.75"/>
<circle cx="786.5" cy="842.0" r="15.75"/>
<circle cx="803.6" cy="859.5" r="15.75"/>
<circle cx="803.7" cy="853.7" r="15.75"/>
<circle cx="807.3" cy="852.9" r="15.75"/>
<circle cx="795.6" cy="836.8" r="15.75"/>
<circle cx="798.7" cy="844.5" r="15.75"/>
<circle cx="791.8" cy="830.8" r="15.75"/>
<circle cx="801.8" cy="840.6" r="15.75"/>
<circle cx="799.6" cy="834.9" r="15.75"/>
<circle cx="805.5" cy="833.5" r="15.75"/>
<circle cx="802.6" cy="828.4" r="15.75"/>
<circle cx="812.2" cy="840.1" r="15.75"/>
<circle cx="817.3" cy="837.2" r="15.75"/>
<circle cx="816.8" cy="837.1" r="15.75"/>
<circle cx="812.0" cy="828.4" r="15.75"/>
<circle cx="822.3" cy="834.0" r="15.75"/>
<circle cx="815.1" cy="825.0" r="15.75"/>
<circle cx="813.9" cy="823.9" r="15.75"/>
<circle cx="816.5" cy="816.9" r="15.75"/>
<circle cx="820.8" cy="817.2" r="15.75"/>
<circle cx="819.1" cy="818.0" r="15.75"/>
<circle cx="823.7" cy="820.1" r="15.75"/>
<circle cx="826.7" cy="813.6" r="15.75"/>
<circle cx="834.1" cy="819.2" r="15.75"/>
<circle cx="832.8" cy="814.0" r="15.75"/>
<circle cx="836.8" cy="817.9" r="15.75"/>
<circle cx="833.4" cy="815.6" r="15.75"/>
<circle cx="836.8" cy="812.5" r="15.75"/>
<circle cx="839.4" cy="810.4" r="15.75"/>
<circle cx="832.5" cy="805.4" r="15.75"/>
<circle cx="842.5" cy="811.7" r="15.75"/>
<circle cx="839.2" cy="803.5" r="15.75"/>
<circle cx="840.2" cy="798.0" r="15.75"/>
<circle cx="848.4" cy="807.1" r="15.75"/>
<circle cx="846.0" cy="801.3" r="15.75"/>
<circle cx="846.6" cy="798.1" r="15.75"/>
<circle cx="842.2" cy="792.6" r="15.75"/>
<circle cx="847.4" cy="788.4" r="15.75"/>
<circle cx="849.7" cy="793.4" r="15.75"/>
<circle cx="859.8" cy="793.8" r="15.75"/>
<circle cx="851.9" cy="790.1" r="15.75"/>
<circle cx="849.9" cy="785.4" r="15.75"/>
<circle cx="853.4" cy="785.8" r="15.75"/>
<circle cx="854.3" cy="782.2" r="15.75"/>
<circle cx="862.7" cy="782.2" r="15.75"/>
<circle cx="864.5" cy="785.0" r="15.75"/>
<circle cx="862.3" cy="778.7" r="15.75"/>
<circle cx="862.5" cy="777.4" r="15.75"/>
<circle cx="859.8" cy="772.1" r="15.75"/>
<circle cx="872.3" cy="782.8" r="15.75"/>
<circle cx="870.0" cy="773.2" r="15.75"/>
<circle cx="874.4" cy="777.9" r="15.75"/>
<circle cx="868.5" cy="768.7" r="15.75"/>
<circle cx="872.5" cy="767.9" r="15.75"/>
<circle cx="882.8" cy="771.8" r="15.75"/>
<circle cx="879.9" cy="772.7" r="15.75"/>
<circle cx="873.5" cy="757.5" r="15.75"/>
<circle cx="885.1" cy="768.0" r="15.75"/>
<circle cx="880.7" cy="764.4" r="15.75"/>
<circle cx="883.7" cy="756.5" r="15.75"/>
<circle cx="890.4" cy="760.8" r="15.75"/>
<circle cx="891.3" cy="763.7" r="15.75"/>
<circle cx="881.4" cy="751.5" r="15.75"/>
<circle cx="890.5" cy="753.0" r="15.75"/>
<circle cx="897.5" cy="756.6" r="15.75"/>
<circle cx="895.5" cy="751.1" r="15.75"/>
<circle cx="893.7" cy="748.0" r="15.75"/>
<circle cx="890.9" cy="740.2" r="15.75"/>
<circle cx="895.4" cy="740.5" r="15.75"/>
<circle cx="899.7" cy="746.8" r="15.75"/>
<circle cx="894.4" cy="738.9" r="15.75"/>
<circle cx="904.3" cy="742.0" r="15.75"/>
<circle cx="896.5" cy="736.3" r="15.75"/>
<circle cx="905.4" cy="737.9" r="15.75"/>
<circle cx="903.7" cy="736.1" r="15.75"/>
<circle cx="907.1" cy="738.2" r="15.75"/>
<circle cx="906.7" cy="730.9" r="15.75"/>
<circle cx="917.4" cy="737.0" r="15.75"/>
<circle cx="917.3" cy="735.2" r="15.75"/>
<circle cx="909.5" cy="726.3" r="15.75"/>
<circle cx="922.3" cy="732.1" r="15.75"/>
<circle cx="912.6" cy="725.1" r="15.75"/>
<circle cx="919.3" cy="723.2" r="15.75"/>
<circle cx="918.1" cy="722.4" r="15.75"/>
<circle cx="925.6" cy="721.2" r="15.75"/>
<circle cx="917.8" cy="717.8" r="15.75"/>
<circle cx="922.4" cy="716.0" r="15.75"/>
<circle cx="925.5" cy="717.9" r="15.75"/>
<circle cx="930.9" cy="715.7" r="15.75"/>
<circle cx="926.1" cy="712.3" r="15.75"/>
<circle cx="934.7" cy="716.9" r="15.75"/>
<circle cx="933.7" cy="713.5" r="15.75"/>
<circle cx="929.0" cy="701.3" r="15.75"/>
<circle cx="932.4" cy="699.9" r="15.75"/>
<circle cx="933.6" cy="704.5" r="15.75"/>
<circle cx="932.2" cy="698.1" r="15.75"/>
<circle cx="942.2" cy="700.6" r="15.75"/>
<circle cx="934.1" cy="694.0" r="15.75"/>
<circle cx="939.0" cy="690.9" r="15.75"/>
<circle cx="935.7" cy="692.2" r="15.75"/>
<circle cx="937.5" cy="688.1" r="15.75"/>
<circle cx="953.0" cy="696.4" r="15.75"/>
<circle cx="952.6" cy="692.0" r="15.75"/>
<circle cx="954.2" cy="696.1" r="15.75"/>
<circle cx="947.7" cy="681.4" r="15.75"/>
<circle cx="953.4" cy="691.6" r="15.75"/>
<circle cx="955.2" cy="687.4" r="15.75"/>
<circle cx="952.4" cy="681.9" r="15.75"/>
<circle cx="949.7" cy="678.9" r="15.75"/>
<circle cx="954.2" cy="677.4" r="15.75"/>
<circle cx="964.4" cy="686.4" r="15.75"/>
<circle cx="966.4" cy="684.6" r="15.75"/>
<circle cx="961.9" cy="671.9" r="15.75"/>
<circle cx="968.4" cy="678.6" r="15.75"/>
<circle cx="959.2" cy="665.9" r="15.75"/>
<circle cx="967.2" cy="667.0" r="15.75"/>
<circle cx="963.8" cy="665.2" r="15.75"/>
<circle cx="974.0" cy="675.1" r="15.75"/>
<circle cx="971.9" cy="663.4" r="15.75"/>
<circle cx="975.2" cy="670.1" r="15.75"/>
<circle cx="966.5" cy="658.1" r="15.75"/>
<circle cx="981.4" cy="668.3" r="15.75"/>
<circle cx="983.2" cy="661.6" r="15.75"/>
<circle cx="976.3" cy="656.8" r="15.75"/>
<circle cx="988.1" cy="662.6" r="15.75"/>
<circle cx="980.1" cy="650.8" r="15.75"/>
<circle cx="980.6" cy="651.8" r="15.75"/>
<circle cx="978.1" cy="626.8" r="15.75"/>
<circle cx="989.8" cy="633.3" r="15.75"/>
<circle cx="990.6" cy="633.0" r="15.75"/>
<circle cx="988.5" cy="621.0" r="15.75"/>
<circle cx="1000.7" cy="623.0" r="15.75"/>
<circle cx="995.2" cy="617.2" r="15.75"/>
<circle cx="999.7" cy="613.5" r="15.75"/>
<circle cx="1006.5" cy="616.7" r="15.75"/>
<circle cx="1010.6" cy="610.0" r="15.75"/>
<circle cx="1014.0" cy="606.9" r="15.75"/>
<circle cx="1013.1" cy="603.6" r="15.75"/>
<circle cx="1013.5" cy="597.5" r="15.75"/>
<circle cx="1019.9" cy="600.1" r="15.75"/>
<circle cx="1020.0" cy="588.4" r="15.75"/>
<circle cx="1020.7" cy="588.7" r="15.75"/>
<circle cx="1023.7" cy="581.4" r="15.75"/>
<circle cx="1031.5" cy="579.4" r="15.75"/>
<circle cx="1040.1" cy="581.8" r="15.75"/>
<circle cx="1033.3" cy="576.3" r="15.75"/>
<circle cx="1036.4" cy="569.8" r="15.75"/>
<circle cx="1060.7" cy="557.5" r="15.75"/>
<circle cx="1059.0" cy="549.8" r="15.75"/>
<circle cx="1067.0" cy="549.4" r="15.75"/>
<circle cx="1072.0" cy="546.9" r="15.75"/>
<circle cx="1071.2" cy="546.0" r="15.75"/>
<circle cx="1076.8" cy="543.9" r="15.75"/>
<circle cx="1077.5" cy="537.7" r="15.75"/>
<circle cx="1081.5" cy="537.1" r="15.75"/>
<circle cx="1079.9" cy="528.9" r="15.75"/>
<circle cx="1084.7" cy="522.2" r="15.75"/>
<circle cx="1089.7" cy="525.6" r="15.75"/>
<circle cx="1093.7" cy="517.9" r="15.75"/>
<circle cx="1094.7" cy="519.1" r="15.75"/>
<circle cx="1102.6" cy="517.2" r="15.75"/>
<circle cx="1105.1" cy="518.3" r="15.75"/>
<circle cx="1138.3" cy="477.4" r="15.75"/>
<circle cx="1147.5" cy="473.4" r="15.75"/>
<circle cx="1145.3" cy="464.1" r="15.75"/>
<circle cx="1151.6" cy="458.9" r="15.75"/>
<circle cx="1165.5" cy="457.1" r="15.75"/>
<circle cx="1170.4" cy="451.5" r="15.75"/>
<circle cx="1176.5" cy="444.5" r="15.75"/>
<circle cx="1258.6" cy="350.8" r="15.75"/>
<circle cx="1264.3" cy="352.8" r="15.75"/>
<circle cx="1269.0" cy="344.0" r="15.75"/>
<circle cx="1270.4" cy="338.3" r="15.75"/>
</g>
<line x1="234.4" y1="1415.0" x2="1618.2" y2="17.4" stroke="#000" stroke-width="5.5" stroke-linecap="round" stroke-dasharray="44 75.15"/>
<g stroke="#000" stroke-width="6.4" fill="none">
<path d="M234.4 1415.0V17.4M1618.2 1438.4V17.4M210.8 17.4H1621.4M210.8 1415.0H1621.4"/>
</g>
<path d="M234.4 1392.0V1438.4M210.8 1415.0H258.0M265.2 1392.0V1415.0M234.4 1383.9H258.0M295.9 1392.0V1415.0M234.4 1352.9H258.0M326.7 1392.0V1415.0M234.4 1321.8H258.0M357.4 1392.0V1415.0M234.4 1290.8H258.0M388.2 1392.0V1438.4M210.8 1259.7H258.0M418.9 1392.0V1415.0M234.4 1228.7H258.0M449.7 1392.0V1415.0M234.4 1197.6H258.0M480.4 1392.0V1415.0M234.4 1166.5H258.0M511.2 1392.0V1415.0M234.4 1135.5H258.0M541.9 1392.0V1438.4M210.8 1104.4H258.0M572.7 1392.0V1415.0M234.4 1073.4H258.0M603.4 1392.0V1415.0M234.4 1042.3H258.0M634.2 1392.0V1415.0M234.4 1011.2H258.0M664.9 1392.0V1415.0M234.4 980.2H258.0M695.7 1392.0V1438.4M210.8 949.1H258.0M726.4 1392.0V1415.0M234.4 918.1H258.0M757.2 1392.0V1415.0M234.4 887.0H258.0M787.9 1392.0V1415.0M234.4 856.0H258.0M818.7 1392.0V1415.0M234.4 824.9H258.0M849.4 1392.0V1438.4M210.8 793.8H258.0M880.2 1392.0V1415.0M234.4 762.8H258.0M910.9 1392.0V1415.0M234.4 731.7H258.0M941.7 1392.0V1415.0M234.4 700.7H258.0M972.4 1392.0V1415.0M234.4 669.6H258.0M1003.2 1392.0V1438.4M210.8 638.6H258.0M1033.9 1392.0V1415.0M234.4 607.5H258.0M1064.7 1392.0V1415.0M234.4 576.4H258.0M1095.4 1392.0V1415.0M234.4 545.4H258.0M1126.2 1392.0V1415.0M234.4 514.3H258.0M1156.9 1392.0V1438.4M210.8 483.3H258.0M1187.7 1392.0V1415.0M234.4 452.2H258.0M1218.4 1392.0V1415.0M234.4 421.2H258.0M1249.2 1392.0V1415.0M234.4 390.1H258.0M1279.9 1392.0V1415.0M234.4 359.0H258.0M1310.7 1392.0V1438.4M210.8 328.0H258.0M1341.4 1392.0V1415.0M234.4 296.9H258.0M1372.2 1392.0V1415.0M234.4 265.9H258.0M1402.9 1392.0V1415.0M234.4 234.8H258.0M1433.7 1392.0V1415.0M234.4 203.7H258.0M1464.4 1392.0V1438.4M210.8 172.7H258.0M1495.2 1392.0V1415.0M234.4 141.6H258.0M1525.9 1392.0V1415.0M234.4 110.6H258.0M1556.7 1392.0V1415.0M234.4 79.5H258.0M1587.4 1392.0V1415.0M234.4 48.5H258.0M1618.2 1392.0V1438.4M210.8 17.4H258.0" stroke="#000" stroke-width="6" fill="none"/>
<g font-size="75.5" fill="#000">
<text x="234.4" y="1527.6" text-anchor="middle">0</text>
<text x="388.2" y="1527.6" text-anchor="middle">10</text>
<text x="541.9" y="1527.6" text-anchor="middle">20</text>
<text x="695.7" y="1527.6" text-anchor="middle">30</text>
<text x="849.4" y="1527.6" text-anchor="middle">40</text>
<text x="1003.2" y="1527.6" text-anchor="middle">50</text>
<text x="1156.9" y="1527.6" text-anchor="middle">60</text>
<text x="1310.7" y="1527.6" text-anchor="middle">70</text>
<text x="1464.4" y="1527.6" text-anchor="middle">80</text>
<text x="1618.2" y="1527.6" text-anchor="middle">90</text>
<text x="168.2" y="1292.1" text-anchor="end">10</text>
<text x="168.2" y="1136.8" text-anchor="end">20</text>
<text x="168.2" y="981.5" text-anchor="end">30</text>
<text x="168.2" y="826.2" text-anchor="end">40</text>
<text x="168.2" y="671.0" text-anchor="end">50</text>
<text x="168.2" y="515.7" text-anchor="end">60</text>
<text x="168.2" y="360.4" text-anchor="end">70</text>
<text x="168.2" y="205.1" text-anchor="end">80</text>
<text x="168.2" y="49.8" text-anchor="end">90</text>
<text x="168.2" y="1447.4" text-anchor="end">0</text>
<text x="388.4" y="1638" textLength="1077" lengthAdjust="spacing">Actual compressive strength (MPa)</text>
<text transform="translate(52.9 1288.8) rotate(-90) scale(1 1.016)" textLength="1143.7" lengthAdjust="spacingAndGlyphs">Predicted compressive strength (MPa)</text>
<text x="444.6" y="86.6">Testing</text>
<text y="86.6"><tspan x="712.8">R</tspan><tspan x="765.4" y="64.1" font-size="48">2</tspan><tspan x="790" y="86.6" textLength="252.1" lengthAdjust="spacing">=0.8960</tspan></text>
<text x="444.6" y="205.2">Training</text>
<text y="205.2"><tspan x="715.6">R</tspan><tspan x="768.2" y="182.7" font-size="48">2</tspan><tspan x="792.2" y="205.2" textLength="252" lengthAdjust="spacing">=0.9910</tspan></text>
<text x="446.6" y="324">1:1 Line</text>
</g>
<path d="M325.5 50.2l31.8 31.8m0 -31.8l-31.8 31.8" fill="none" stroke="#0099ff" stroke-width="4.7"/>
<circle cx="341.25" cy="185.5" r="15.75" fill="none" stroke="#ff62ff" stroke-width="4.8"/>
<line x1="260.5" y1="304.4" x2="422.4" y2="304.4" stroke="#000" stroke-width="5.5" stroke-linecap="round" stroke-dasharray="45 75"/>
</svg></body></html>
